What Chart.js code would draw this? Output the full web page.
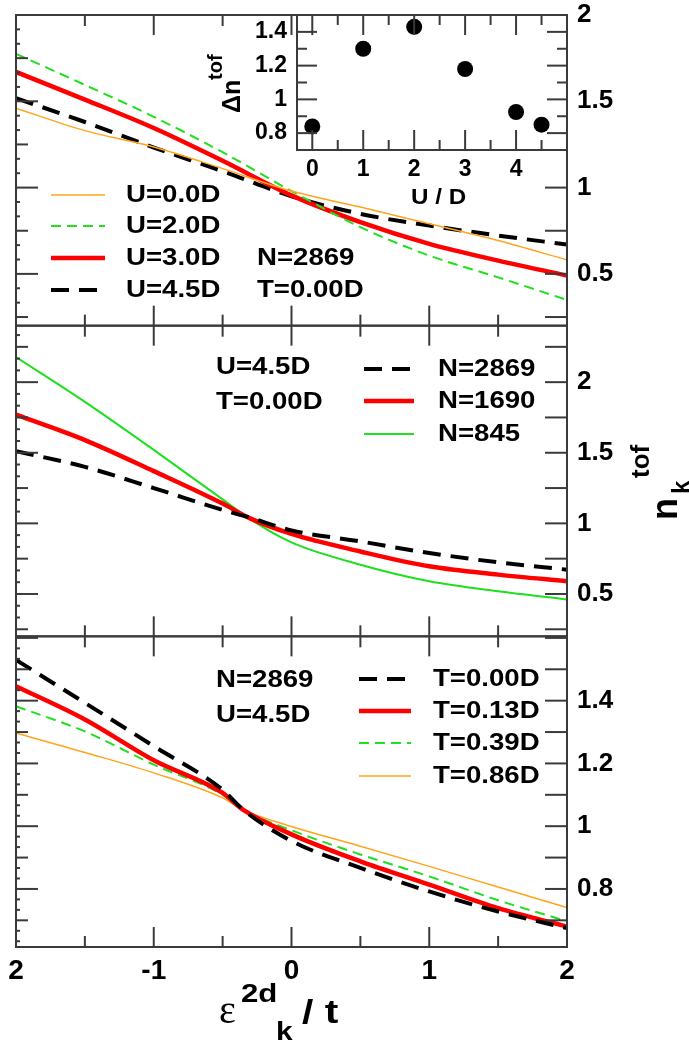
<!DOCTYPE html>
<html lang="en">
<head>
<meta charset="UTF-8" />
<title>n_k tof</title>
<script src="https://cdn.jsdelivr.net/npm/chart.js"></script>
<style>
  body { margin: 0; background: #fff; }
  #wrap { position: relative; width: 689px; height: 1043px; }
  #wrap canvas { position: absolute; left: 0; top: 0; }
</style>
</head>
<body>
<div id="wrap">
  <canvas id="main" width="689" height="1043"></canvas>
  <canvas id="inset" width="689" height="215"></canvas>
</div>
<script>
// --- data ---
// panel 1: different U, N=2869, T=0
const eps1 = [-2, -1.5, -1, -0.5, 0, 0.5, 1, 1.5, 2];
const nU00 = [1.46, 1.33, 1.235, 1.11, 0.98, 0.887, 0.79, 0.693, 0.581];
const nU20 = [1.775, 1.595, 1.41, 1.205, 0.98, 0.771, 0.606, 0.48, 0.349];
const nU30 = [1.67, 1.51, 1.345, 1.155, 0.955, 0.80, 0.674, 0.577, 0.49];
const nU45 = [1.518, 1.38, 1.232, 1.095, 0.95, 0.848, 0.78, 0.722, 0.67];

// panel 2: different N, U=4.5D, T=0
const eps2 = [-2, -1.5, -1, -0.5, -0.3, 0, 0.5, 1, 1.5, 2];
const nN2869 = [1.511, 1.40, 1.25, 1.095, 1.04, 0.95, 0.872, 0.79, 0.724, 0.672];
const nN1690 = [1.77, 1.59, 1.37, 1.14, 1.035, 0.925, 0.801, 0.696, 0.637, 0.59];
const nN845  = [2.177, 1.86, 1.52, 1.17, 1.03, 0.865, 0.707, 0.59, 0.519, 0.461];

// panel 3: different T, N=2869, U=4.5D
const eps3 = [-2, -1.5, -1, -0.5, -0.35, 0, 0.5, 1, 1.5, 2];
const nT000 = [1.53, 1.393, 1.255, 1.116, 1.052, 0.953, 0.867, 0.792, 0.728, 0.675];
const nT013 = [1.446, 1.34, 1.21, 1.106, 1.052, 0.974, 0.888, 0.814, 0.739, 0.68];
const nT039 = [1.382, 1.302, 1.196, 1.10, 1.052, 0.987, 0.91, 0.84, 0.764, 0.697];
const nT086 = [1.297, 1.235, 1.17, 1.09, 1.052, 0.999, 0.936, 0.872, 0.806, 0.741];

// inset: delta n^tof vs U/D
const insetU = [0, 1, 2, 3, 4, 4.5];
const insetDn = [0.84, 1.30, 1.43, 1.18, 0.925, 0.85];

// ticks
const xTickValues = [-2, -1, 0, 1, 2];
const xTickLabels = ['2', '-1', '0', '1', '2'];
const y1Ticks = [0.5, 1, 1.5, 2];
const y2Ticks = [0.5, 1, 1.5, 2];
const y3Ticks = [0.8, 1, 1.2, 1.4];
const insetXTicks = [0, 1, 2, 3, 4];
const insetYTicks = [0.8, 1, 1.2, 1.4];

const panel1Notes = ['N=2869', 'T=0.00D'];
const panel2Notes = ['U=4.5D', 'T=0.00D'];
const panel3Notes = ['N=2869', 'U=4.5D'];

// --- styles ---
const FONT = "'Liberation Sans', Arial, sans-serif";
const ORANGE = '#ffa41c';
const GREEN = '#1ee01e';

const thinOrange = { borderColor: ORANGE, borderWidth: 1.5, borderDash: [] };
const dashGreen = { borderColor: GREEN, borderWidth: 2, borderDash: [10, 6] };
const thinGreen = { borderColor: GREEN, borderWidth: 2, borderDash: [] };
const thickRed = { borderColor: '#ff0000', borderWidth: 4.5, borderDash: [] };
const dashBlack = { borderColor: '#000000', borderWidth: 4, borderDash: [18, 10] };

function series(xs, ys) {
  return xs.map((x, i) => ({ x: x, y: ys[i] }));
}

function line(label, xs, ys, axis, style) {
  return Object.assign({
    label: label,
    data: series(xs, ys),
    yAxisID: axis,
    pointRadius: 0,
    fill: false,
    cubicInterpolationMode: 'monotone'
  }, style);
}

const datasets = [
  line('U=0.0D', eps1, nU00, 'y1', thinOrange),
  line('U=2.0D', eps1, nU20, 'y1', dashGreen),
  line('U=3.0D', eps1, nU30, 'y1', thickRed),
  line('U=4.5D', eps1, nU45, 'y1', dashBlack),
  line('N=2869', eps2, nN2869, 'y2', dashBlack),
  line('N=1690', eps2, nN1690, 'y2', thickRed),
  line('N=845', eps2, nN845, 'y2', thinGreen),
  line('T=0.00D', eps3, nT000, 'y3', dashBlack),
  line('T=0.13D', eps3, nT013, 'y3', thickRed),
  line('T=0.39D', eps3, nT039, 'y3', dashGreen),
  line('T=0.86D', eps3, nT086, 'y3', thinOrange)
];

// panel description: axis id, tick step for the small marks
const panels = [
  { axis: 'y1', step: 0.25 },
  { axis: 'y2', step: 0.25 },
  { axis: 'y3', step: 0.1 }
];

const legends = [
  { items: [0, 1, 2, 3], x0: 51, x1: 105, tx: 126, ys: [195, 226, 258, 290] },
  { items: [4, 5, 6], x0: 364, x1: 414, tx: 438, ys: [369, 401, 434] },
  { items: [7, 8, 9, 10], x0: 359, x1: 411, tx: 433, ys: [679, 711, 743, 776] }
];
const notes = [
  { texts: panel1Notes, x: 257, ys: [258, 290] },
  { texts: panel2Notes, x: 216, ys: [367, 402] },
  { texts: panel3Notes, x: 216, ys: [680, 715] }
];

function text(ctx, s, x, y, font, sx) {
  ctx.save();
  ctx.translate(x, y);
  ctx.scale(sx || 1.15, 1);
  ctx.font = font;
  ctx.fillStyle = '#000';
  ctx.textAlign = 'left';
  ctx.textBaseline = 'middle';
  ctx.fillText(s, 0, 0);
  ctx.restore();
}

// text on a baseline, optionally rotated a quarter turn
function baseText(ctx, s, x, y, font, sx, rotated) {
  ctx.save();
  ctx.translate(x, y);
  if (rotated) ctx.rotate(-Math.PI / 2);
  ctx.scale(sx || 1, 1);
  ctx.font = font;
  ctx.fillStyle = '#000';
  ctx.textAlign = 'left';
  ctx.textBaseline = 'alphabetic';
  ctx.fillText(s, 0, 0);
  ctx.restore();
}

function seg(ctx, x1, y1, x2, y2) {
  ctx.beginPath();
  ctx.moveTo(x1, y1);
  ctx.lineTo(x2, y2);
  ctx.stroke();
}

function noPad(s) {
  s.paddingTop = 0;
  s.paddingBottom = 0;
  s.paddingLeft = 0;
  s.paddingRight = 0;
}

const mainPlugin = {
  id: 'frames',
  afterDraw(chart) {
    const ctx = chart.ctx;
    const xs = chart.scales.x;
    ctx.save();
    ctx.strokeStyle = '#3a3a3a';
    ctx.lineWidth = 2;
    ctx.setLineDash([]);
    panels.forEach(p => {
      const ys = chart.scales[p.axis];
      ctx.strokeRect(xs.left, ys.top, xs.right - xs.left, ys.bottom - ys.top);
      // x ticks, top and bottom of every panel
      for (let k = -3; k <= 3; k++) {
        const px = xs.getPixelForValue(k / 2);
        const len = k % 2 === 0 ? 20 : 11;
        seg(ctx, px, ys.top, px, ys.top + len);
        seg(ctx, px, ys.bottom - len, px, ys.bottom);
      }
      // y ticks
      const sub = p.step / 3;
      for (let k = Math.ceil(ys.min / sub); k * sub < ys.max - 1e-6; k++) {
        const v = k * sub;
        if (v <= ys.min + 1e-6) continue;
        const py = ys.getPixelForValue(v);
        let len = 4;
        if (k % 6 === 0) len = 22;
        else if (k % 3 === 0) len = 12;
        seg(ctx, xs.left, py, xs.left + len, py);
        if (k % 3 === 0) seg(ctx, xs.right - 22, py, xs.right, py);
      }
    });

    // legends
    legends.forEach(lg => {
      lg.items.forEach((di, r) => {
        const ds = chart.data.datasets[di];
        ctx.strokeStyle = ds.borderColor;
        ctx.lineWidth = ds.borderWidth;
        ctx.setLineDash(ds.borderDash);
        seg(ctx, lg.x0, lg.ys[r], lg.x1, lg.ys[r]);
        ctx.setLineDash([]);
        text(ctx, ds.label, lg.tx, lg.ys[r], 'bold 24px ' + FONT);
      });
    });
    notes.forEach(n => {
      n.texts.forEach((s, r) => text(ctx, s, n.x, n.ys[r], 'bold 24px ' + FONT));
    });

    // x title: eps^2d_k / t
    baseText(ctx, '\u03b5', 219, 1023, "40px 'Liberation Serif', serif");
    baseText(ctx, '2d', 241, 1002, 'bold 26px ' + FONT, 1.2);
    baseText(ctx, 'k', 276, 1040, 'bold 26px ' + FONT, 1.15);
    baseText(ctx, '/ t', 302, 1023, 'bold 34px ' + FONT, 1.2);

    // right title: n_k^tof, rotated
    baseText(ctx, 'n', 677, 520, 'bold 36px ' + FONT, 1, true);
    baseText(ctx, 'k', 689, 494, 'bold 24px ' + FONT, 1, true);
    baseText(ctx, 'tof', 649, 478, 'bold 26px ' + FONT, 1, true);
    ctx.restore();
  }
};

function yAxis(min, max, tickList) {
  return {
    type: 'linear',
    position: 'right',
    stack: 'panels',
    stackWeight: 1,
    min: min,
    max: max,
    offset: false,
    grid: { display: false, drawTicks: false },
    border: { display: false },
    afterFit(s) { s.width = 122; noPad(s); },
    afterBuildTicks(s) { s.ticks = tickList.map(v => ({ value: v })); },
    ticks: {
      padding: 10,
      color: '#000',
      autoSkip: false,
      font: { family: FONT, size: 26, weight: 'bold' },
      callback: v => String(v)
    }
  };
}

new Chart(document.getElementById('main'), {
  type: 'line',
  data: { datasets: datasets },
  options: {
    responsive: false,
    animation: false,
    devicePixelRatio: 1,
    layout: { padding: { left: 16, top: 15, right: 0, bottom: 0 } },
    plugins: { legend: { display: false }, tooltip: { enabled: false } },
    scales: {
      x: {
        type: 'linear',
        position: 'bottom',
        min: -2,
        max: 2,
        grid: { display: false, drawTicks: false },
        border: { display: false },
        afterFit(s) { s.height = 96; noPad(s); },
        afterBuildTicks(s) { s.ticks = xTickValues.map(v => ({ value: v })); },
        ticks: {
          padding: 7,
          color: '#000',
          autoSkip: false,
          maxRotation: 0,
          font: { family: FONT, size: 28, weight: 'bold' },
          callback: (v, i) => xTickLabels[i]
        }
      },
      y1: yAxis(0.2, 2.0, y1Ticks),
      y2: yAxis(0.2, 2.4, y2Ticks),
      y3: yAxis(0.615, 1.605, y3Ticks)
    }
  },
  plugins: [mainPlugin]
});

// --- inset ---
const insetPlugin = {
  id: 'insetFrame',
  beforeDatasetsDraw(chart) {
    const a = chart.chartArea;
    const ctx = chart.ctx;
    ctx.save();
    ctx.fillStyle = '#fff';
    ctx.fillRect(a.left, a.top, a.right - a.left, a.bottom - a.top);
    ctx.restore();
  },
  afterDraw(chart) {
    const ctx = chart.ctx;
    const xs = chart.scales.x;
    const ys = chart.scales.y;
    ctx.save();
    ctx.strokeStyle = '#3a3a3a';
    ctx.lineWidth = 2;
    ctx.strokeRect(xs.left, ys.top, xs.right - xs.left, ys.bottom - ys.top);
    for (let k = 0; k <= 9; k++) {
      const px = xs.getPixelForValue(k / 2);
      const len = k % 2 === 0 ? 20 : 10;
      seg(ctx, px, ys.top, px, ys.top + len);
      seg(ctx, px, ys.bottom - len, px, ys.bottom);
    }
    for (let k = 8; k <= 14; k++) {
      const py = ys.getPixelForValue(k / 10);
      const len = k % 2 === 0 ? 20 : 10;
      seg(ctx, xs.left, py, xs.left + len, py);
      seg(ctx, xs.right - len, py, xs.right, py);
    }
    text(ctx, 'U / D', 411, 198, 'bold 22px ' + FONT, 1.1);
    baseText(ctx, '\u0394n', 240, 113, 'bold 25px ' + FONT, 1, true);
    baseText(ctx, 'tof', 222, 80, 'bold 20px ' + FONT, 1, true);
    ctx.restore();
  }
};

new Chart(document.getElementById('inset'), {
  type: 'scatter',
  data: {
    datasets: [{
      data: series(insetU, insetDn),
      pointRadius: 8,
      pointBackgroundColor: '#000',
      pointBorderColor: '#000',
      pointBorderWidth: 0
    }]
  },
  options: {
    responsive: false,
    animation: false,
    devicePixelRatio: 1,
    layout: { padding: { left: 0, top: 15, right: 122, bottom: 0 } },
    plugins: { legend: { display: false }, tooltip: { enabled: false } },
    scales: {
      x: {
        type: 'linear',
        min: -0.3,
        max: 5,
        grid: { display: false, drawTicks: false },
        border: { display: false },
        afterFit(s) { s.height = 65; noPad(s); },
        afterBuildTicks(s) { s.ticks = insetXTicks.map(v => ({ value: v })); },
        ticks: {
          padding: 6,
          color: '#000',
          autoSkip: false,
          maxRotation: 0,
          font: { family: FONT, size: 23, weight: 'bold' },
          callback: v => String(v)
        }
      },
      y: {
        type: 'linear',
        position: 'left',
        min: 0.7,
        max: 1.5,
        grid: { display: false, drawTicks: false },
        border: { display: false },
        afterFit(s) { s.width = 297; noPad(s); },
        afterBuildTicks(s) { s.ticks = insetYTicks.map(v => ({ value: v })); },
        ticks: {
          padding: 10,
          color: '#000',
          autoSkip: false,
          font: { family: FONT, size: 23, weight: 'bold' },
          callback: v => String(v)
        }
      }
    }
  },
  plugins: [insetPlugin]
});
</script>
</body>
</html>
